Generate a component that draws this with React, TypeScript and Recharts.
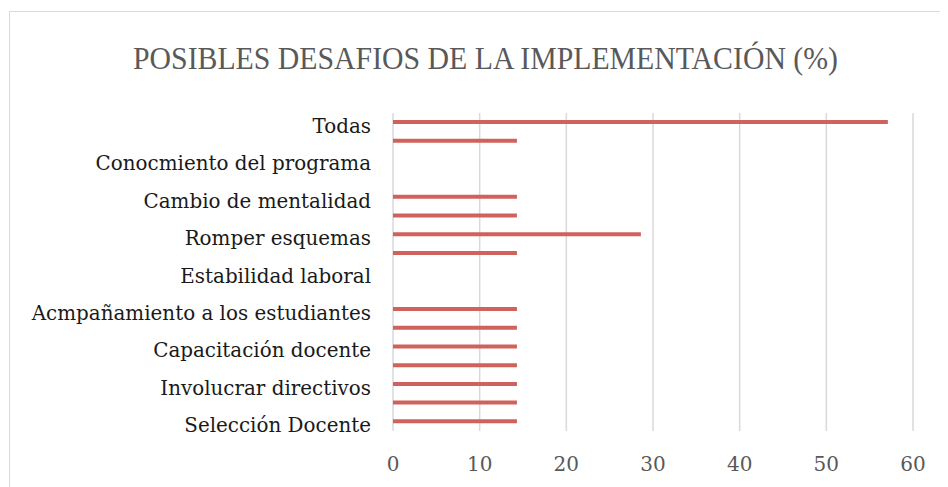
import React from "react";
import { BarChart, Bar, XAxis, YAxis, CartesianGrid } from "recharts";

const categories = [
  "Todas",
  "",
  "Conocmiento del programa",
  "",
  "Cambio de mentalidad",
  "",
  "Romper esquemas",
  "",
  "Estabilidad laboral",
  "",
  "Acmpañamiento a los estudiantes",
  "",
  "Capacitación docente",
  "",
  "Involucrar directivos",
  "",
  "Selección Docente",
];

const values = [57.1, 14.3, 0, 0, 14.3, 14.3, 28.6, 14.3, 0, 0, 14.3, 14.3, 14.3, 14.3, 14.3, 14.3, 14.3];

const xTicks = [0, 10, 20, 30, 40, 50, 60];

const title = "POSIBLES DESAFIOS DE LA IMPLEMENTACIÓN (%)";

const data = categories.map((c, i) => ({ name: c, value: values[i] }));

const FONT = "'DejaVu Serif', serif";

const YTick = (props: any) => {
  const { x, y, payload } = props;
  return (
    <text x={x} y={y + 3.5} dy="0.355em" textAnchor="end" fontFamily={FONT} fontSize={19.9} fill="#1a1a1a">
      {payload.value}
    </text>
  );
};

const XTick = (props: any) => {
  const { x, y, payload } = props;
  return (
    <text x={x} y={y + 32.5} dy="0.355em" textAnchor="middle" fontFamily={FONT} fontSize={20} fill="#595959">
      {payload.value}
    </text>
  );
};

export default function App() {
  return (
    <div style={{ position: "relative", width: 940, height: 479, overflow: "hidden", background: "#fff" }}>
      <div
        style={{
          position: "absolute",
          left: 1,
          top: 3,
          width: 1000,
          height: 1000,
          border: "1px solid #d9d9d9",
          boxSizing: "border-box",
        }}
      />
      <svg style={{ position: "absolute", left: 0, top: 0 }} width={940} height={100}>
        <text
          x={477.5}
          y={61}
          textAnchor="middle"
          fontFamily="'Liberation Serif', serif"
          fontSize={32}
          fill="#595959"
          textLength={705}
          lengthAdjust="spacingAndGlyphs"
        >
          {title}
        </text>
      </svg>
      <div style={{ position: "absolute", left: 0, top: 0 }}>
        <BarChart
          width={940}
          height={479}
          data={data}
          layout="vertical"
          margin={{ top: 105, right: 35, bottom: 26, left: 0 }}
          barSize={4}
        >
          <CartesianGrid horizontal={false} vertical={true} stroke="#d9d9d9" strokeWidth={1.5} />
          <XAxis
            type="number"
            domain={[0, 60]}
            ticks={xTicks}
            axisLine={false}
            tickLine={false}
            tickSize={0}
            tickMargin={0}
            height={30}
            tick={<XTick />}
          />
          <YAxis
            type="category"
            dataKey="name"
            width={385}
            axisLine={false}
            tickLine={false}
            tickSize={0}
            tickMargin={22}
            interval={0}
            tick={<YTick />}
          />
          <Bar dataKey="value" fill="#cf625a" isAnimationActive={false} />
        </BarChart>
      </div>
    </div>
  );
}
